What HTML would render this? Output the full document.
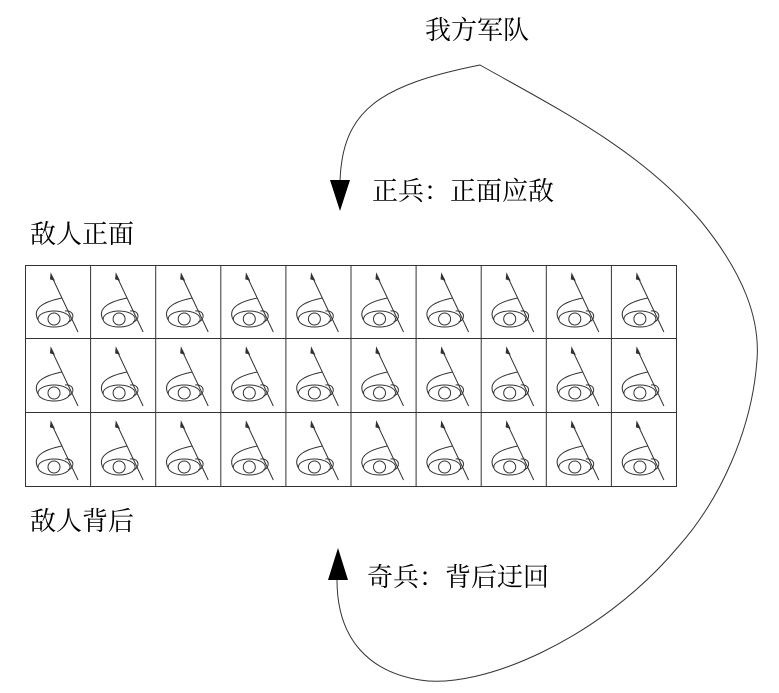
<!DOCTYPE html>
<html><head><meta charset="utf-8"><style>
html,body{margin:0;padding:0;background:#fff;}
svg{display:block}
text{font-family:"Liberation Serif","Noto Serif CJK SC",serif;font-size:26px;fill:#000}
</style></head><body>
<svg width="779" height="693" viewBox="0 0 779 693" xmlns="http://www.w3.org/2000/svg">
<defs>
<g id="ic" fill="none" stroke="#333" stroke-width="1">
<line x1="27" y1="12" x2="53" y2="67"/>
<path d="M26,9 L29,15 L25.5,14 Z" fill="#333"/>
<ellipse cx="29" cy="54" rx="16" ry="8"/>
<circle cx="29" cy="54" r="6"/>
<path d="M13,55 C6,42 22,36 37,33"/>
<path d="M40,46 C50,45 50,55 43,57"/>
</g>
</defs>
<rect x="25.5" y="265.5" width="651" height="221" fill="none" stroke="#333"/>
<g stroke="#333" stroke-width="1">
<line x1="90.6" y1="265" x2="90.6" y2="486"/>
<line x1="155.7" y1="265" x2="155.7" y2="486"/>
<line x1="220.8" y1="265" x2="220.8" y2="486"/>
<line x1="285.9" y1="265" x2="285.9" y2="486"/>
<line x1="351" y1="265" x2="351" y2="486"/>
<line x1="416.1" y1="265" x2="416.1" y2="486"/>
<line x1="481.2" y1="265" x2="481.2" y2="486"/>
<line x1="546.3" y1="265" x2="546.3" y2="486"/>
<line x1="611.4" y1="265" x2="611.4" y2="486"/>
<line x1="25" y1="338.5" x2="677" y2="338.5"/>
<line x1="25" y1="412.5" x2="677" y2="412.5"/>
</g>
<g>
<use href="#ic" x="25" y="265"/><use href="#ic" x="90.1" y="265"/><use href="#ic" x="155.2" y="265"/><use href="#ic" x="220.3" y="265"/><use href="#ic" x="285.4" y="265"/><use href="#ic" x="350.5" y="265"/><use href="#ic" x="415.6" y="265"/><use href="#ic" x="480.7" y="265"/><use href="#ic" x="545.8" y="265"/><use href="#ic" x="610.9" y="265"/>
<use href="#ic" x="25" y="339"/><use href="#ic" x="90.1" y="339"/><use href="#ic" x="155.2" y="339"/><use href="#ic" x="220.3" y="339"/><use href="#ic" x="285.4" y="339"/><use href="#ic" x="350.5" y="339"/><use href="#ic" x="415.6" y="339"/><use href="#ic" x="480.7" y="339"/><use href="#ic" x="545.8" y="339"/><use href="#ic" x="610.9" y="339"/>
<use href="#ic" x="25" y="413"/><use href="#ic" x="90.1" y="413"/><use href="#ic" x="155.2" y="413"/><use href="#ic" x="220.3" y="413"/><use href="#ic" x="285.4" y="413"/><use href="#ic" x="350.5" y="413"/><use href="#ic" x="415.6" y="413"/><use href="#ic" x="480.7" y="413"/><use href="#ic" x="545.8" y="413"/><use href="#ic" x="610.9" y="413"/>
</g>
<path d="M340,182 C342,110 380,85 480,65 C560,110 640,150 700,220 C745,275 760,320 757,360 C752,430 720,500 678,547 C600,640 480,690 420,680 C370,672 337,640 337,580" fill="none" stroke="#333" stroke-width="1"/>
<path d="M330,180 L350,180 L340,211 Z" fill="#000"/>
<path d="M328,580 L348,580 L338,548 Z" fill="#000"/>
<text x="425" y="39">我方军队</text>
<text x="372" y="200">正兵：正面应敌</text>
<text x="30" y="243">敌人正面</text>
<text x="30" y="530">敌人背后</text>
<text x="367" y="586">奇兵：背后迂回</text>
</svg>
</body></html>
